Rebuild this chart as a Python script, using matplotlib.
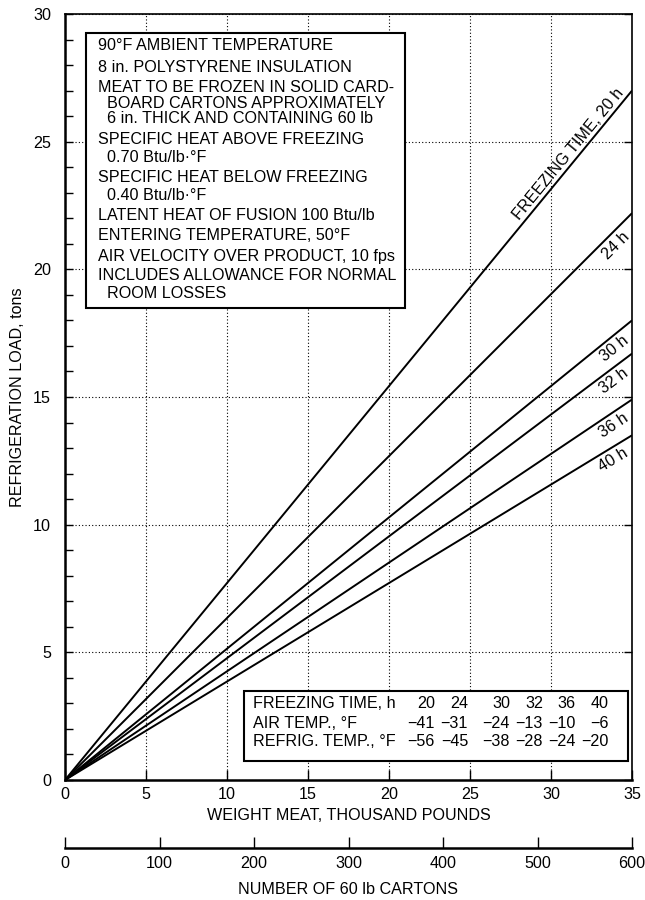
import numpy as np
import matplotlib
matplotlib.use('Agg')
import matplotlib.pyplot as plt
from matplotlib.patches import Rectangle

plt.rcParams['font.family'] = ['Liberation Sans', 'DejaVu Sans']

# data
weight = [0, 35]                      # thousand pounds
freeze_hours = [20, 24, 30, 32, 36, 40]
load_at_35 = [27.0, 22.2, 18.0, 16.7, 14.9, 13.5]   # tons at 35,000 lb
air_temp = [-41, -31, -24, -13, -10, -6]
refrig_temp = [-56, -45, -38, -28, -24, -20]
line_labels = ['FREEZING TIME, 20 h', '24 h', '30 h', '32 h', '36 h', '40 h']
notes = ['90°F AMBIENT TEMPERATURE',
         '8 in. POLYSTYRENE INSULATION',
         'MEAT TO BE FROZEN IN SOLID CARD-',
         '  BOARD CARTONS APPROXIMATELY',
         '  6 in. THICK AND CONTAINING 60 lb',
         'SPECIFIC HEAT ABOVE FREEZING',
         '  0.70 Btu/lb·°F',
         'SPECIFIC HEAT BELOW FREEZING',
         '  0.40 Btu/lb·°F',
         'LATENT HEAT OF FUSION 100 Btu/lb',
         'ENTERING TEMPERATURE, 50°F',
         'AIR VELOCITY OVER PRODUCT, 10 fps',
         'INCLUDES ALLOWANCE FOR NORMAL',
         '  ROOM LOSSES']
note_y = [46, 67, 88, 103, 118, 140, 157, 178, 195, 216, 236, 256, 276, 293]
cartons_max = 600

W, H = 645, 900
FS = 11.6
fig = plt.figure(figsize=(W / 100, H / 100), dpi=100)

def fx(x):
    return x / W

def fy(y):
    return 1 - y / H

ax = fig.add_axes([fx(65), fy(780), fx(632) - fx(65), fy(14) - fy(780)])
ax.set_xlim(0, 35)
ax.set_ylim(0, 30)
ax.set_xticks(range(0, 36, 5))
ax.set_yticks(range(0, 31, 5))
ax.set_yticks(range(0, 31, 1), minor=True)
ax.tick_params(axis='both', which='both', direction='in', labelsize=FS, width=1)
ax.tick_params(axis='x', which='major', length=7, top=False, pad=5)
ax.tick_params(axis='y', which='major', length=6, right=True, pad=10)
ax.tick_params(axis='y', which='minor', length=6, right=False)
ax.grid(True, which='major', linestyle=(0, (1, 2)), color='black', linewidth=0.8)
for s in ['left', 'bottom']:
    ax.spines[s].set_linewidth(1.8)
for s in ['top', 'right']:
    ax.spines[s].set_linewidth(1.2)
ax.set_xlabel('WEIGHT MEAT, THOUSAND POUNDS', fontsize=FS, labelpad=4)
ax.set_ylabel('REFRIGERATION LOAD, tons', fontsize=FS, labelpad=6)

for h, end, lab in zip(freeze_hours, load_at_35, line_labels):
    ys = [w * end / 35 for w in weight]
    ax.plot(weight, ys, color='black', linewidth=1.4, solid_capstyle='butt')
    # angle of the line on screen
    p0 = ax.transData.transform((0, 0))
    p1 = ax.transData.transform((35, end))
    ang = np.degrees(np.arctan2(p1[1] - p0[1], p1[0] - p0[0]))
    if h == 20:
        xc, off = 31.5, 6.5
    else:
        xc, off = 33.5, -8
    nx, ny = -np.sin(np.radians(ang)), np.cos(np.radians(ang))
    ax.annotate(lab, (xc, xc * end / 35), xytext=(nx * off, ny * off),
                textcoords='offset points', rotation=ang, rotation_mode='anchor',
                ha='center', va='center', fontsize=FS)

# notes box
fig.patches.append(Rectangle((fx(86), fy(308)), fx(405) - fx(86), fy(33) - fy(308),
                             transform=fig.transFigure, facecolor='white',
                             edgecolor='black', linewidth=1.5, zorder=2))
for t, y in zip(notes, note_y):
    fig.text(fx(98), fy(y), t, ha='left', va='center', fontsize=FS, zorder=3)

# table box
fig.patches.append(Rectangle((fx(244), fy(761)), fx(628) - fx(244), fy(691) - fy(761),
                             transform=fig.transFigure, facecolor='white',
                             edgecolor='black', linewidth=1.5, zorder=2))
col_x = [435, 468, 510, 543, 576, 609]
rows = [('FREEZING TIME, h', freeze_hours, 704),
        ('AIR TEMP., °F', air_temp, 723),
        ('REFRIG. TEMP., °F', refrig_temp, 742)]
for name, vals, y in rows:
    fig.text(fx(253), fy(y), name, ha='left', va='center', fontsize=FS, zorder=3)
    for v, x in zip(vals, col_x):
        fig.text(fx(x), fy(y), str(v).replace('-', '\u2212'), ha='right', va='center',
                 fontsize=FS, zorder=3)

# second scale: number of cartons
ax2 = fig.add_axes([fx(65), fy(848), fx(632) - fx(65), 0.0001])
ax2.set_xlim(0, cartons_max)
ax2.set_xticks(range(0, cartons_max + 1, 100))
ax2.set_yticks([])
for s in ['left', 'right', 'top']:
    ax2.spines[s].set_visible(False)
ax2.spines['bottom'].set_linewidth(1.8)
ax2.patch.set_visible(False)
ax2.tick_params(axis='x', direction='in', length=8, width=1, labelsize=FS, pad=6)
ax2.set_xlabel('NUMBER OF 60 lb CARTONS', fontsize=FS, labelpad=8)

fig.savefig('out.png', dpi=100)
